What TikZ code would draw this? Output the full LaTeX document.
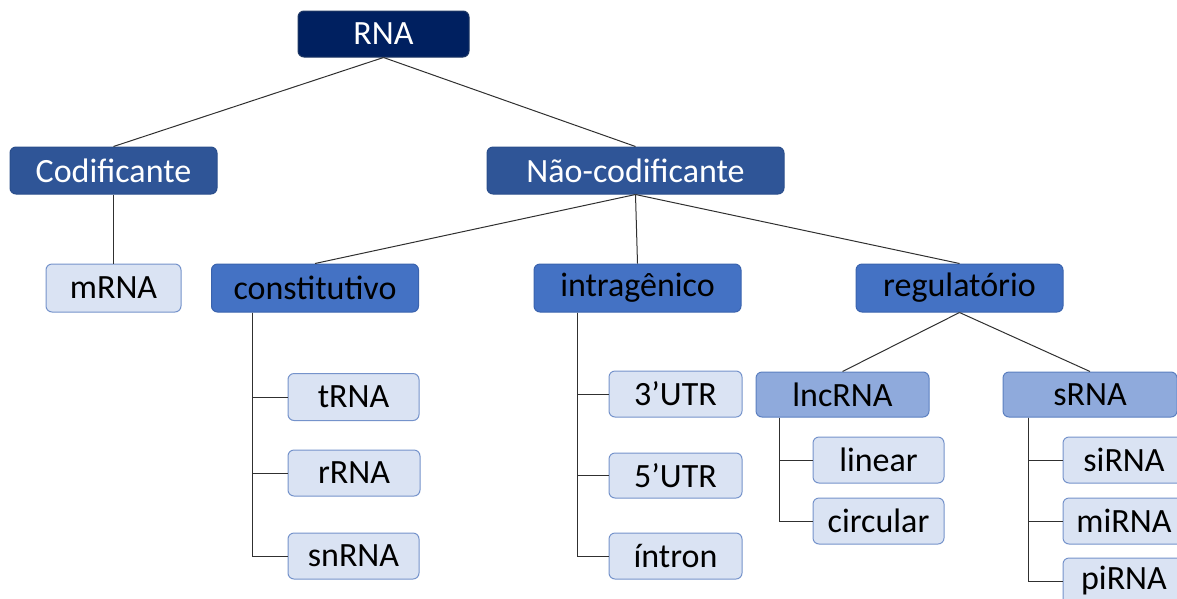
\documentclass[tikz,border=0pt]{standalone}
\usepackage{fontspec}
\setmainfont{Carlito}
\usetikzlibrary{calc}
\definecolor{navy}{HTML}{002060}
\definecolor{navyedge}{HTML}{1F3864}
\definecolor{darkblue}{HTML}{2F5597}
\definecolor{darkedge}{HTML}{2A4E8C}
\definecolor{midblue}{HTML}{4472C4}
\definecolor{midedge}{HTML}{3A63AE}
\definecolor{softblue}{HTML}{8FAADC}
\definecolor{softedge}{HTML}{5B7FC0}
\definecolor{paleblue}{HTML}{DAE3F3}
\definecolor{paleedge}{HTML}{7593CB}
\definecolor{linkgray}{HTML}{303030}
\tikzset{
  box/.style={rectangle, rounded corners=6pt, line width=1pt, inner sep=0pt,
    font=\fontsize{34}{38}\selectfont},
  rootbox/.style={box, fill=navy, draw=navyedge, text=white},
  branchbox/.style={box, fill=darkblue, draw=darkedge, text=white, minimum height=47pt},
  groupbox/.style={box, fill=midblue, draw=midedge, text=black, minimum height=48pt, minimum width=207pt},
  subbox/.style={box, fill=softblue, draw=softedge, text=black, minimum height=45pt},
  leafbox/.style={box, fill=paleblue, draw=paleedge, text=black, minimum height=46pt},
  link/.style={draw=linkgray, line width=1pt},
}
\begin{document}
\begin{tikzpicture}[x=1pt, y=-1pt]
\useasboundingbox (0,0) rectangle (1177,598);
\clip (0,0) rectangle (1177,598);

% top levels
\node[rootbox, minimum width=171pt, minimum height=46pt] (rna) at (383.5,34) {RNA};
\node[branchbox, minimum width=207pt] (cod) at (113.5,170.5) {Codificante};
\node[branchbox, minimum width=297pt] (nao) at (635.5,170.5) {Não-codificante};

% second level
\node[leafbox, minimum width=135pt, minimum height=48pt] (mrna) at (113.5,288) {mRNA};
\node[groupbox] (cons) at (315,288) {constitutivo};
\node[groupbox] (intra) at (637.5,288) {intragênico};
\node[groupbox] (regu) at (959.5,288) {regulatório};

% constitutive RNAs
\node[leafbox, minimum width=131pt, minimum height=47pt] (trna) at (353.5,397) {tRNA};
\node[leafbox, minimum width=132pt] (rrna) at (354,473) {rRNA};
\node[leafbox, minimum width=131pt] (snrna) at (353.5,556) {snRNA};

% intragenic regions
\node[leafbox, minimum width=133pt] (utr3) at (675.5,394) {3’UTR};
\node[leafbox, minimum width=133pt, minimum height=45pt] (utr5) at (675.5,475.5) {5’UTR};
\node[leafbox, minimum width=133pt] (intron) at (675.5,556) {íntron};

% regulatory RNAs
\node[subbox, minimum width=173pt] (lnc) at (842.5,394.5) {lncRNA};
\node[subbox, minimum width=174pt] (srna) at (1090,394.5) {sRNA};
\node[leafbox, minimum width=131pt] (linear) at (878.5,460) {linear};
\node[leafbox, minimum width=131pt] (circular) at (878.5,521) {circular};
\node[leafbox, minimum width=122pt] (sirna) at (1124,460) {siRNA};
\node[leafbox, minimum width=122pt] (mirna) at (1124,521) {miRNA};
\node[leafbox, minimum width=122pt] (pirna) at (1124,581) {piRNA};

% straight links
\draw[link] (rna.south) -- (cod.north);
\draw[link] (rna.south) -- (nao.north);
\draw[link] (cod.south) -- (mrna.north);
\draw[link] (nao.south) -- (cons.north);
\draw[link] (nao.south) -- (intra.north);
\draw[link] (nao.south) -- (regu.north);
\draw[link] (regu.south) -- (lnc.north);
\draw[link] (regu.south) -- (srna.north);

% elbow trunks
\coordinate (consT) at ($(cons.south west)+(41,0)$);
\coordinate (intraT) at ($(intra.south west)+(44,0)$);
\coordinate (lncT) at ($(lnc.south west)+(24,0)$);
\coordinate (srnaT) at ($(srna.south west)+(26,0)$);
\foreach \c in {trna,rrna,snrna} \draw[link] (consT) |- (\c.west);
\foreach \c in {utr3,utr5,intron} \draw[link] (intraT) |- (\c.west);
\foreach \c in {linear,circular} \draw[link] (lncT) |- (\c.west);
\foreach \c in {sirna,mirna,pirna} \draw[link] (srnaT) |- (\c.west);
\end{tikzpicture}
\end{document}
